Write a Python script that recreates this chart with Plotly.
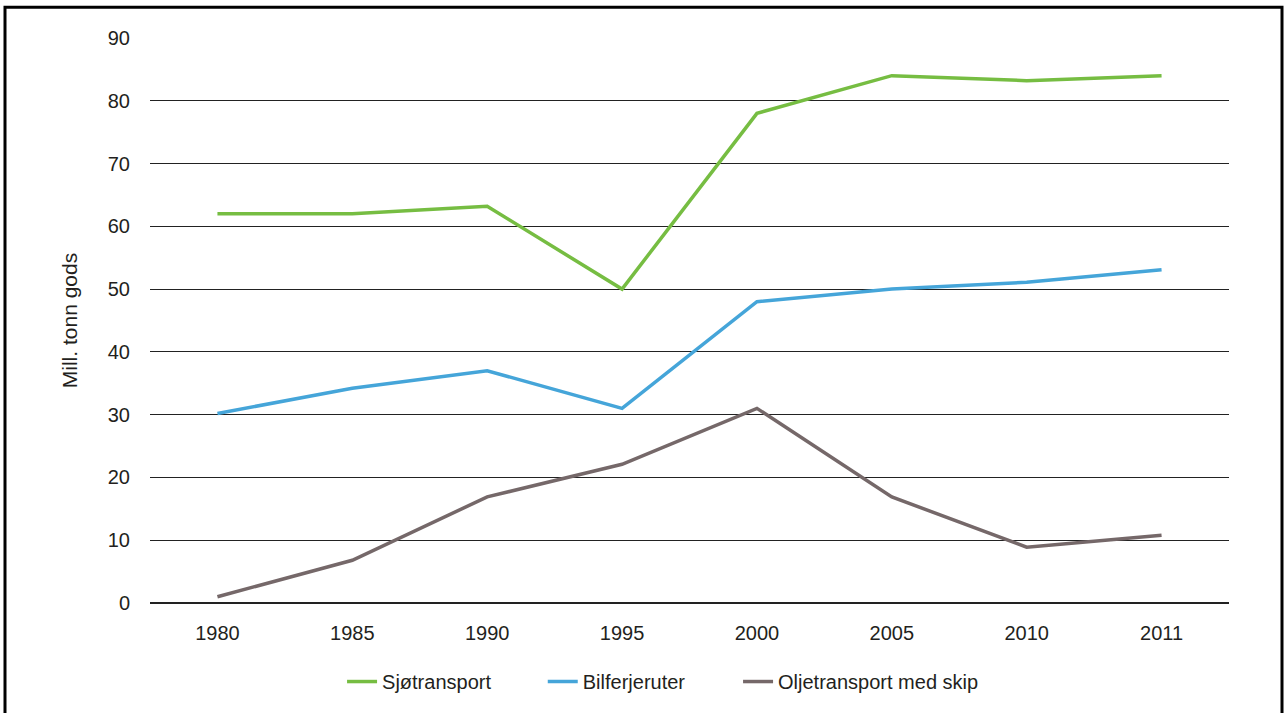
import plotly.graph_objects as go

years = ["1980", "1985", "1990", "1995", "2000", "2005", "2010", "2011"]
sjotransport = [62.0, 62.0, 63.2, 50.0, 78.0, 84.0, 83.2, 84.0]
bilferjeruter = [30.2, 34.2, 37.0, 31.0, 48.0, 50.0, 51.1, 53.1]
oljetransport = [1.0, 6.8, 16.9, 22.1, 31.0, 16.9, 8.9, 10.8]

series = [
    ("Sjøtransport", sjotransport, "#76bd42", "legend", 0.178),
    ("Bilferjeruter", bilferjeruter, "#45a5d9", "legend2", 0.364),
    ("Oljetransport med skip", oljetransport, "#756869", "legend3", 0.545),
]

font_family = "Liberation Sans, Arial, sans-serif"

fig = go.Figure()
legends = {}
for name, vals, color, leg, lx in series:
    fig.add_trace(go.Scatter(
        x=years, y=vals, name=name, mode="lines",
        line=dict(color=color, width=3.5), legend=leg,
    ))
    legends[leg] = dict(
        orientation="h", x=lx, xanchor="left", y=-0.139, yanchor="middle",
        font=dict(size=20), bgcolor="rgba(0,0,0,0)",
    )

fig.update_layout(
    width=1284, height=713,
    margin=dict(l=150, r=55, t=38, b=107),
    paper_bgcolor="white", plot_bgcolor="white",
    font=dict(family=font_family, size=20, color="#231f20"),
    showlegend=True,
    xaxis=dict(
        type="category", range=[-0.5, 7.5],
        showgrid=False, showline=False, zeroline=False,
        ticks="outside", ticklen=12, tickcolor="white",
        tickfont=dict(size=20),
    ),
    yaxis=dict(
        range=[0, 90], dtick=10, showgrid=True, gridcolor="#222222", gridwidth=1,
        zeroline=True, zerolinecolor="#222222", zerolinewidth=1.5,
        showline=False, ticks="outside", ticklen=15, tickcolor="white",
        tickfont=dict(size=20),
        title=dict(text="Mill. tonn gods", font=dict(size=21), standoff=24),
    ),
    shapes=[dict(
        type="rect", xref="paper", yref="paper",
        x0=(5 - 150) / 1079, x1=(1282 - 150) / 1079,
        y0=-0.3, y1=(606 - 7) / 568,
        line=dict(color="black", width=3), fillcolor="rgba(0,0,0,0)",
        layer="above",
    )],
    **legends,
)

fig.write_html("out.html")
